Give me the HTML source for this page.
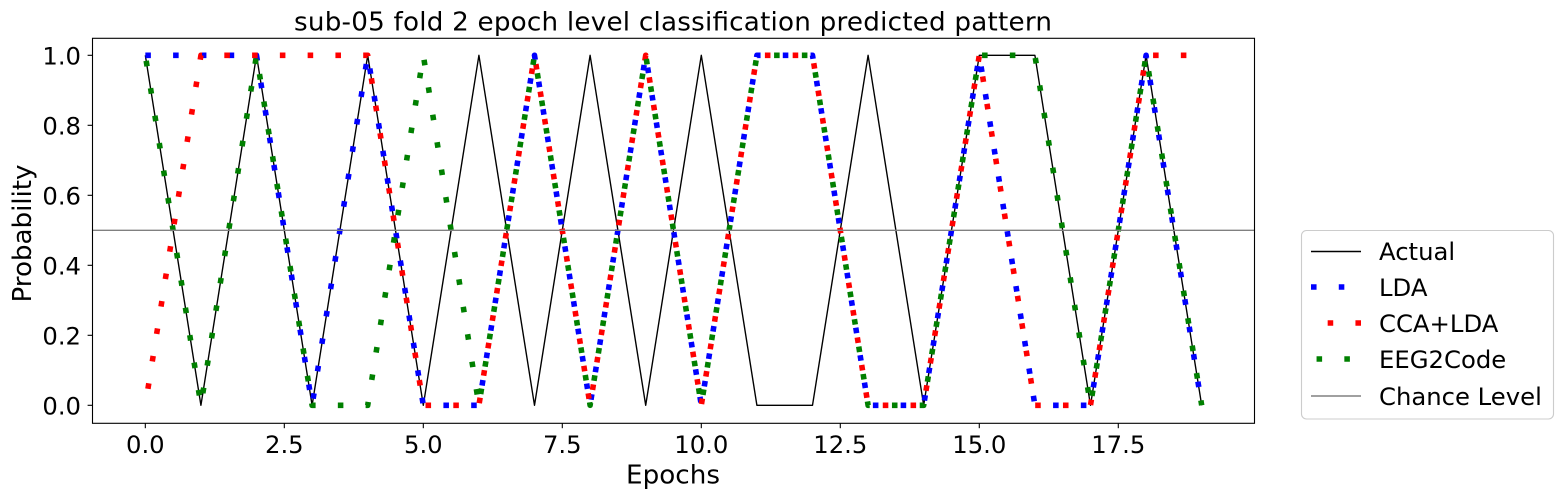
<!DOCTYPE html>
<html>
<head>
<meta charset="utf-8">
<title>sub-05 fold 2 epoch level classification predicted pattern</title>
<style>
html,body{margin:0;padding:0;background:#fff;width:1563px;height:500px;overflow:hidden}
svg{display:block}
text{font-family:"DejaVu Sans","Liberation Sans",sans-serif;fill:#000}
</style>
</head>
<body>
<svg id="chart" xmlns="http://www.w3.org/2000/svg" width="1563" height="500" viewBox="0 0 1563 500">
  <rect x="92.5" y="38.3" width="1162" height="385" fill="#fff"/>
  <g id="series-layer"></g>
  <g id="tick-layer"></g>
  <rect x="92.5" y="38.3" width="1162" height="385" fill="none" stroke="#000" stroke-width="1.1"/>
  <text x="673" y="30.5" font-size="26.2" text-anchor="middle" textLength="758" lengthAdjust="spacing">sub-05 fold 2 epoch level classification predicted pattern</text>
  <text x="673" y="483.5" font-size="26.2" text-anchor="middle" textLength="94" lengthAdjust="spacing">Epochs</text>
  <text transform="translate(31,233.5) rotate(-90)" font-size="26.2" text-anchor="middle" textLength="138" lengthAdjust="spacing">Probability</text>
  <g>
    <rect x="1301.5" y="230.5" width="252" height="188.5" rx="5" ry="5" fill="#fff" fill-opacity="0.8" stroke="#ccc" stroke-width="1.1"/>
    <g id="legend-handles"></g>
    <text x="1379" y="260" font-size="24.3">Actual</text>
    <text x="1379" y="296" font-size="24.3">LDA</text>
    <text x="1379" y="332" font-size="24.3">CCA+LDA</text>
    <text x="1379" y="368" font-size="24.3">EEG2Code</text>
    <text x="1379" y="405" font-size="24.3">Chance Level</text>
  </g>
</svg>
<script>
// Chart data
const epochs = [0,1,2,3,4,5,6,7,8,9,10,11,12,13,14,15,16,17,18,19];
const actualValues = [1,0,1,0,1,0,1,0,1,0,1,0,0,1,0,1,1,0,1,0];
const ldaValues = [1,1,1,0,1,0,0,1,0,1,0,1,1,0,0,1,0,0,1,0];
const ccaLdaValues = [0,1,1,1,1,0,0,1,0,1,0,1,1,0,0,1,0,0,1,1];
const eeg2CodeValues = [1,0,1,0,0,1,0,1,0,1,0,1,1,0,0,1,1,0,1,0];
const chanceLevel = [0.5];
const xTickValues = [0,2.5,5,7.5,10,12.5,15,17.5];
const xTickLabels = ['0.0','2.5','5.0','7.5','10.0','12.5','15.0','17.5'];
const yTickValues = [0,0.2,0.4,0.6,0.8,1];
const yTickLabels = ['0.0','0.2','0.4','0.6','0.8','1.0'];

const NS = 'http://www.w3.org/2000/svg';
const plotLeft = 92.5, plotRight = 1254.5, plotTop = 37.8, plotBottom = 422.8, frameBottom = 423.3;
const xDomain = [-0.95, 19.95];
const yDomain = [-0.05, 1.05];
function xScale(v){ return plotLeft + (v - xDomain[0]) / (xDomain[1] - xDomain[0]) * (plotRight - plotLeft); }
function yScale(v){ return plotBottom - (v - yDomain[0]) / (yDomain[1] - yDomain[0]) * (plotBottom - plotTop); }
function pointsFor(values){ return values.map(function(v,i){ return xScale(epochs[i]).toFixed(2) + ',' + yScale(v).toFixed(2); }).join(' '); }

const seriesLayer = document.getElementById('series-layer');
const tickLayer = document.getElementById('tick-layer');
const legendHandles = document.getElementById('legend-handles');
const DOT = 4 * 100 / 72;

function styleLine(el, color, width, phase){
  el.setAttribute('fill', 'none');
  el.setAttribute('stroke', color);
  el.setAttribute('stroke-width', width);
  el.setAttribute('stroke-linejoin', 'round');
  if (phase !== null) {
    el.setAttribute('stroke-dasharray', DOT + ' ' + (DOT * 4));
    el.setAttribute('stroke-dashoffset', DOT * phase);
    el.setAttribute('stroke-linecap', 'butt');
  }
}

// Actual
const actualLine = document.createElementNS(NS, 'polyline');


actualLine.setAttribute('points', pointsFor(actualValues));
styleLine(actualLine, '#000', 1.39, null);
seriesLayer.appendChild(actualLine);

// LDA
const ldaLine = document.createElementNS(NS, 'polyline');


ldaLine.setAttribute('points', pointsFor(ldaValues));
styleLine(ldaLine, '#0000ff', DOT, 0);
seriesLayer.appendChild(ldaLine);

// CCA+LDA
const ccaLine = document.createElementNS(NS, 'polyline');


ccaLine.setAttribute('points', pointsFor(ccaLdaValues));
styleLine(ccaLine, '#ff0000', DOT, 2);
seriesLayer.appendChild(ccaLine);

// EEG2Code
const eegLine = document.createElementNS(NS, 'polyline');


eegLine.setAttribute('points', pointsFor(eeg2CodeValues));
styleLine(eegLine, '#008000', DOT, 4);
seriesLayer.appendChild(eegLine);

// Chance level
const chanceLine = document.createElementNS(NS, 'line');


chanceLine.setAttribute('x1', plotLeft);
chanceLine.setAttribute('x2', plotRight);
chanceLine.setAttribute('y1', yScale(chanceLevel[0]));
chanceLine.setAttribute('y2', yScale(chanceLevel[0]));
styleLine(chanceLine, '#808080', 1.39, null);
seriesLayer.appendChild(chanceLine);

// X ticks
xTickValues.forEach(function(v, i){
  const t = document.createElementNS(NS, 'line');
  
  
  t.setAttribute('x1', xScale(v));
  t.setAttribute('x2', xScale(v));
  t.setAttribute('y1', frameBottom);
  t.setAttribute('y2', frameBottom + 4.9);
  t.setAttribute('stroke', '#000');
  t.setAttribute('stroke-width', '1.1');
  tickLayer.appendChild(t);
  const l = document.createElementNS(NS, 'text');
  
  
  l.setAttribute('x', xScale(v));
  l.setAttribute('y', 453);
  l.setAttribute('font-size', '24.3');
  l.setAttribute('text-anchor', 'middle');
  l.textContent = xTickLabels[i];
  tickLayer.appendChild(l);
});

// Y ticks
yTickValues.forEach(function(v, i){
  const t = document.createElementNS(NS, 'line');
  
  
  t.setAttribute('x1', plotLeft - 4.9);
  t.setAttribute('x2', plotLeft);
  t.setAttribute('y1', yScale(v));
  t.setAttribute('y2', yScale(v));
  t.setAttribute('stroke', '#000');
  t.setAttribute('stroke-width', '1.1');
  tickLayer.appendChild(t);
  const l = document.createElementNS(NS, 'text');
  
  
  l.setAttribute('x', 81);
  l.setAttribute('y', yScale(v) + 9);
  l.setAttribute('font-size', '24.3');
  l.setAttribute('text-anchor', 'end');
  l.textContent = yTickLabels[i];
  tickLayer.appendChild(l);
});

// Legend handles
const hx1 = 1311, hx2 = 1361;
const handleActual = document.createElementNS(NS, 'line');


handleActual.setAttribute('x1', hx1);
handleActual.setAttribute('x2', hx2);
handleActual.setAttribute('y1', 251.5);
handleActual.setAttribute('y2', 251.5);
styleLine(handleActual, '#000', 1.39, null);
legendHandles.appendChild(handleActual);

const handleLda = document.createElementNS(NS, 'line');


handleLda.setAttribute('x1', hx1);
handleLda.setAttribute('x2', hx2);
handleLda.setAttribute('y1', 287);
handleLda.setAttribute('y2', 287);
styleLine(handleLda, '#0000ff', DOT, 0);
legendHandles.appendChild(handleLda);

const handleCca = document.createElementNS(NS, 'line');


handleCca.setAttribute('x1', hx1);
handleCca.setAttribute('x2', hx2);
handleCca.setAttribute('y1', 323);
handleCca.setAttribute('y2', 323);
styleLine(handleCca, '#ff0000', DOT, 2);
legendHandles.appendChild(handleCca);

const handleEeg = document.createElementNS(NS, 'line');


handleEeg.setAttribute('x1', hx1);
handleEeg.setAttribute('x2', hx2);
handleEeg.setAttribute('y1', 359);
handleEeg.setAttribute('y2', 359);
styleLine(handleEeg, '#008000', DOT, 4);
legendHandles.appendChild(handleEeg);

const handleChance = document.createElementNS(NS, 'line');


handleChance.setAttribute('x1', hx1);
handleChance.setAttribute('x2', hx2);
handleChance.setAttribute('y1', 396);
handleChance.setAttribute('y2', 396);
styleLine(handleChance, '#808080', 1.39, null);
legendHandles.appendChild(handleChance);
</script>
</body>
</html>
